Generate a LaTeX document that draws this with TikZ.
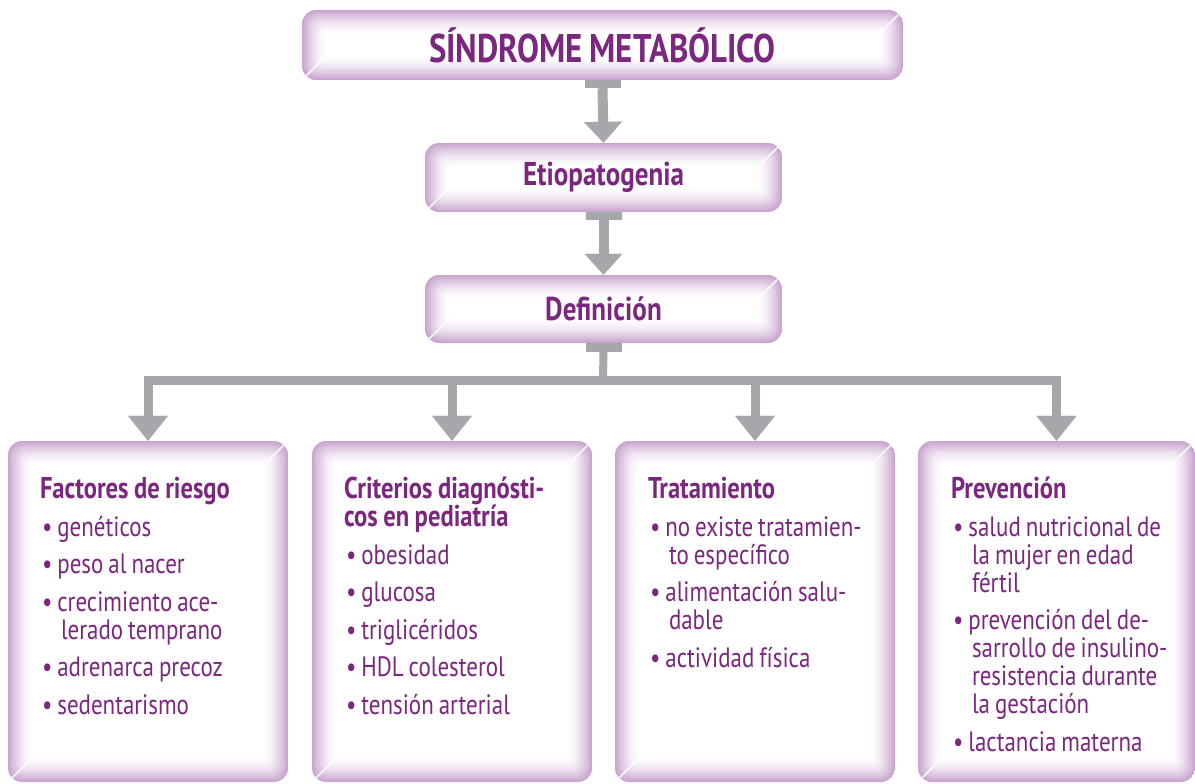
\documentclass[tikz,border=0pt]{standalone}
\usepackage{fontspec}
\setmainfont{PT Sans}[FakeStretch=0.82, WordSpace=0.85]
\usetikzlibrary{arrows.meta}
\definecolor{lav}{RGB}{200,164,206}
\definecolor{tx}{RGB}{123,38,127}
\definecolor{gr}{RGB}{166,167,171}
\tikzset{
  glow/.style={rounded corners=14pt, inner sep=0pt, text=tx,
    path picture={
      \foreach \i in {0,...,24}{
        \pgfmathsetmacro{\p}{100*(1-\i/24)^1.6}
        \pgfmathsetmacro{\r}{max(14-\i*0.5,3)}
        \fill[lav!\p!white, rounded corners=\r pt]
          ([shift={(\i pt,-\i pt)}]path picture bounding box.north west) rectangle
          ([shift={(-\i pt,\i pt)}]path picture bounding box.south east);
      }
      \draw[white, line width=2pt, opacity=.75] (path picture bounding box.north east) -- ++(-22pt,-22pt);
      \draw[white, line width=2pt, opacity=.75] (path picture bounding box.south west) -- ++(22pt,22pt);
    }},
  titlebox/.style={glow, font=\fontsize{40}{44}\selectfont\bfseries},
  midbox/.style={glow, font=\fontsize{33}{38}\selectfont\bfseries},
  catbox/.style={glow, minimum width=280pt, minimum height=341pt},
  boxtext/.style={anchor=base west, text width=250pt, inner sep=0pt,
    text=tx, font=\fontsize{28}{28}\selectfont},
  stub/.style={fill=gr},
  conn/.style={draw=gr, line width=10pt, -{Triangle[width=38pt,length=21pt,line width=0.01pt]}},
  branch/.style={draw=gr, line width=9pt, line join=miter, -{Triangle[width=40pt,length=25pt,line width=0.01pt]}},
}
\newcommand{\itm}[1]{\par\hangindent=21pt\hangafter=1\hspace*{2pt}•\hspace{5pt}#1}
\newcommand{\hd}[1]{{\fontsize{30}{28}\selectfont\bfseries\spaceskip=5.5pt plus 2pt minus 1pt #1}}
\newcommand{\nl}{\break}
\newcommand{\boxsetup}{\raggedright\setlength{\parskip}{9.5pt}\spaceskip=5pt plus 2pt minus 1pt\relax}
\begin{document}
\begin{tikzpicture}[x=1pt,y=-1pt]
\useasboundingbox (0,0) rectangle (1195,784);

\node[titlebox, minimum width=601pt, minimum height=70pt] (top) at (602.5,45) {SÍNDROME METABÓLICO};
\node[midbox, minimum width=357pt, minimum height=69pt] (etio) at (603.5,177.5) {Etiopatogenia};
\node[midbox, minimum width=357pt, minimum height=68pt] (def) at (603.5,309) {Definición};

\node[catbox] (b1) at (148,611.5) {};
\node[catbox] (b2) at (452,611.5) {};
\node[catbox] (b3) at (755,611.5) {};
\node[catbox, minimum width=277pt] (b4) at (1056.5,611.5) {};

% connectors
\fill[stub] ([xshift=-18pt]top.south) rectangle ([xshift=18pt,yshift=-8pt]top.south);
\draw[conn] ([yshift=-8pt]top.south) -- (etio.north);
\fill[stub] ([xshift=-18pt]etio.south) rectangle ([xshift=18pt,yshift=-8pt]etio.south);
\draw[conn] ([yshift=-8pt]etio.south) -- (def.north);
\fill[stub] ([xshift=-18pt]def.south) rectangle ([xshift=18pt,yshift=-9pt]def.south);
\coordinate (hub) at (603,380);
\draw[draw=gr, line width=8pt] ([yshift=-9pt]def.south) -- (hub);
\draw[branch] (hub) -| (b1.north);
\draw[branch] (hub) -| (b2.north);
\draw[branch] (hub) -| (b3.north);
\draw[branch] (hub) -| (b4.north);

% texts
\node[boxtext] (t1) at ([xshift=32pt,yshift=-58pt]b1.north west) {\boxsetup
  \hd{Factores de riesgo}
  \itm{genéticos}
  \itm{peso al nacer}
  \itm{crecimiento ace-\nl lerado temprano}
  \itm{adrenarca precoz}
  \itm{sedentarismo}};
\node[boxtext] (t2) at ([xshift=32pt,yshift=-58pt]b2.north west) {\boxsetup
  \hd{Criterios diagnósti-\nl cos en pediatría}
  \itm{obesidad}
  \itm{glucosa}
  \itm{triglicéridos}
  \itm{HDL colesterol}
  \itm{tensión arterial}};
\node[boxtext] (t3) at ([xshift=33pt,yshift=-58pt]b3.north west) {\boxsetup
  \hd{Tratamiento}
  \itm{no existe tratamien-\nl to específico}
  \itm{alimentación salu-\nl dable}
  \itm{actividad física}};
\node[boxtext] (t4) at ([xshift=33pt,yshift=-58pt]b4.north west) {\boxsetup
  \hd{Prevención}
  \itm{salud nutricional de\nl la mujer en edad\nl fértil}
  \itm{prevención del de-\nl sarrollo de insulino-\nl resistencia durante\nl la gestación}
  \itm{lactancia materna}};
\end{tikzpicture}
\end{document}
